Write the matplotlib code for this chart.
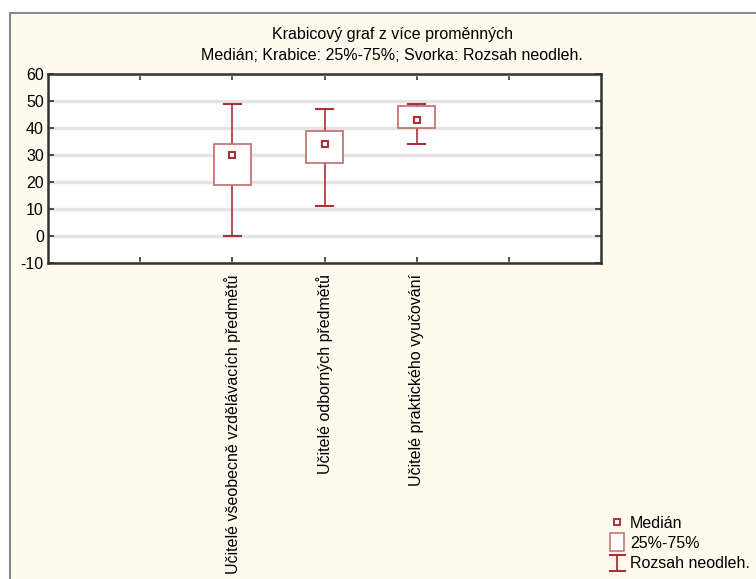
import matplotlib.pyplot as plt
from matplotlib.patches import Rectangle
from matplotlib.lines import Line2D
from matplotlib.legend_handler import HandlerBase
import numpy as np

plt.rcParams['font.family'] = ['Liberation Sans', 'DejaVu Sans']
plt.rcParams['axes.unicode_minus'] = False

# hodnoty
kategorie = ["Učitelé všeobecně vzdělávacích předmětů",
             "Učitelé odborných předmětů",
             "Učitelé praktického vyučování"]
median = [30, 34, 43]
q25 = [19, 27, 40]
q75 = [34, 39, 48]
minimum = [0, 11, 34]
maximum = [49, 47, 49]

cervena = "#a83236"
svetla = "#c46a6a"
pozadi = "#fffaee"
fs = 11.5


class Krabice(HandlerBase):
    def create_artists(self, legend, orig, xd, yd, w, h, fontsize, trans):
        c = xd + w/2
        r = Rectangle((c - 5, yd + h/2 - 6.5), 10, 13,
                      facecolor="white", edgecolor=svetla, lw=1.1, transform=trans)
        return [r]


class Svorka(HandlerBase):
    def create_artists(self, legend, orig, xd, yd, w, h, fontsize, trans):
        c = xd + w/2
        y0, y1 = yd + h/2 - 6, yd + h/2 + 5.5
        car = [Line2D([c, c], [y0, y1], color=cervena, lw=1.3, transform=trans),
               Line2D([c - 5.5, c + 5.5], [y0, y0], color=cervena, lw=1.5, transform=trans),
               Line2D([c - 5.5, c + 5.5], [y1, y1], color=cervena, lw=1.5, transform=trans)]
        return car


fig = plt.figure(figsize=(7.56, 5.79), dpi=100)
fig.patch.set_facecolor("white")

# ramecek okna
W, H = 756, 579
fig.patches.append(Rectangle((10/W, 0), 1 - 10/W, 1 - 13/H, transform=fig.transFigure,
                             facecolor=pozadi, edgecolor="none", zorder=-5))
fig.lines.append(Line2D([10/W, 1], [1 - 13/H, 1 - 13/H], transform=fig.transFigure,
                        color="#8a8a8a", lw=1.5, zorder=-4))
fig.lines.append(Line2D([10/W, 10/W], [0, 1 - 13/H], transform=fig.transFigure,
                        color="#8a8a8a", lw=1.5, zorder=-4))

ax = fig.add_axes([48/W, 1 - 263/H, (601 - 48)/W, (263 - 74)/H])
ax.set_zorder(1)
ax.set_facecolor("white")

x = np.arange(2, 2 + len(kategorie))
sirka = 0.4
cap = 0.19
for i in range(len(kategorie)):
    xi = x[i]
    ax.plot([xi, xi], [minimum[i], q25[i]], color=cervena, lw=1.2, zorder=3)
    ax.plot([xi, xi], [q75[i], maximum[i]], color=cervena, lw=1.2, zorder=3)
    ax.plot([xi - cap/2, xi + cap/2], [minimum[i]] * 2, color=cervena, lw=1.5, zorder=3)
    ax.plot([xi - cap/2, xi + cap/2], [maximum[i]] * 2, color=cervena, lw=1.5, zorder=3)
    ax.add_patch(Rectangle((xi - sirka/2, q25[i]), sirka, q75[i] - q25[i],
                           facecolor="white", edgecolor=svetla, lw=1.2, zorder=4))
    ax.plot(xi, median[i], marker="s", ms=5, mfc="white", mec=cervena, mew=1.5, zorder=5)

ax.set_xlim(0, 6)
ax.set_ylim(-10, 60)
ax.set_yticks(np.arange(-10, 61, 10))
ax.set_xticks([1, 2, 3, 4, 5])
ax.set_xticklabels(["", kategorie[0], kategorie[1], kategorie[2], ""],
                   rotation=90, fontsize=fs, va="top")
ax.tick_params(axis="y", labelsize=fs, pad=3)
ax.tick_params(direction="in", length=4, width=1.2, top=True, right=True, color="#333333")
ax.tick_params(axis="x", pad=8)
ax.grid(axis="y", color="#e4e4e4", lw=2.5, zorder=0)
ax.set_axisbelow(True)
for s in ax.spines.values():
    s.set_linewidth(1.8)
    s.set_color("#333333")

fig.text(392/W, 1 - 34/H, "Krabicový graf z více proměnných", ha="center", va="center", fontsize=fs)
fig.text(392/W, 1 - 56/H, "Medián; Krabice: 25%-75%; Svorka: Rozsah neodleh.",
         ha="center", va="center", fontsize=fs)

# legenda
h_med = Line2D([], [], marker="s", ms=4.5, mfc="white", mec=cervena, mew=1.4, ls="none")
h_box = Rectangle((0, 0), 1, 1)
h_rng = Line2D([], [])
leg = fig.legend([h_med, h_box, h_rng], ["Medián", "25%-75%", "Rozsah neodleh."],
                 handler_map={h_box: Krabice(), h_rng: Svorka()},
                 loc="lower left", bbox_to_anchor=(610/W, 8/H), frameon=False,
                 fontsize=fs, handlelength=0.9, handletextpad=0.35, labelspacing=0.32,
                 borderpad=0, borderaxespad=0)

fig.savefig("out.png", dpi=100)
